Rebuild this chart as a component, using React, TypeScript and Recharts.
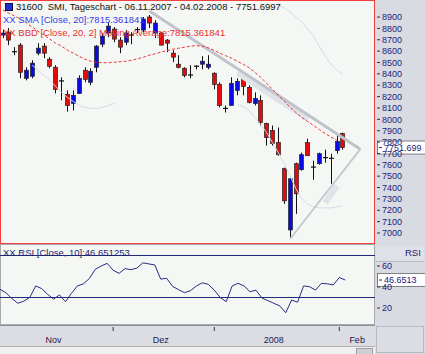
import React from 'react';
import { ComposedChart, Bar, Line, XAxis, YAxis, ReferenceLine } from 'recharts';

// SMI daily candles, 06.11.2007 - 04.02.2008
const opens = [
  8741, 8767, 8595, 8653, 8361, 8379, 8582, 8644, 8529, 8458,
  8338, 8220, 8140, 8228, 8432, 8326, 8458, 8661, 8759, 8794,
  8697, 8679, 8732, 8790, 8785, 8900, 8759, 8759, 8697, 8582,
  8485, 8449, 8390, 8458, 8485, 8458, 8405, 8308, 8087, 8122,
  8255, 8352, 8281, 8140, 8167, 7963, 7901, 7795, 7566, 7027,
  7610, 7557, 7795, 7580, 7610, 7654, 7657, 7725, 7875,
];
const highs = [
  8790, 8803, 8635, 8670, 8458, 8520, 8670, 8670, 8547, 8476,
  8370, 8255, 8255, 8387, 8458, 8449, 8653, 8759, 8847, 8812,
  8723, 8785, 8767, 8812, 8900, 8918, 8873, 8767, 8706, 8608,
  8564, 8458, 8476, 8476, 8555, 8564, 8414, 8326, 8122, 8370,
  8361, 8370, 8299, 8237, 8211, 7970, 7946, 7928, 7575, 7480,
  7619, 7707, 7830, 7636, 7707, 7733, 7698, 7875, 7883,
];
const lows = [
  8715, 8653, 8564, 8361, 8343, 8361, 8564, 8538, 8449, 8228,
  8167, 8069, 8078, 8225, 8326, 8299, 8414, 8635, 8723, 8679,
  8582, 8653, 8661, 8759, 8767, 8803, 8714, 8650, 8591, 8503,
  8449, 8370, 8361, 8440, 8440, 8440, 8264, 8105, 8060, 8120,
  8211, 8211, 8140, 8122, 7946, 7769, 7769, 7680, 7256, 6947,
  7168, 7548, 7678, 7468, 7601, 7619, 7433, 7698, 7733,
];
const closes = [
  8759, 8697, 8590, 8414, 8432, 8494, 8626, 8582, 8467, 8264,
  8330, 8122, 8211, 8361, 8352, 8423, 8644, 8732, 8820, 8706,
  8635, 8759, 8741, 8785, 8882, 8847, 8847, 8653, 8670, 8547,
  8458, 8387, 8385, 8467, 8511, 8485, 8308, 8122, 8096, 8317,
  8334, 8290, 8149, 8184, 7972, 7840, 7787, 7689, 7283, 7477,
  7345, 7689, 7680, 7575, 7698, 7663, 7654, 7804, 7751.6997,
];
const sma20 = [
  8962, 8935, 8909, 8882, 8847, 8812, 8776, 8741, 8706, 8670,
  8644, 8608, 8582, 8555, 8529, 8511, 8502, 8498, 8498, 8502,
  8507, 8511, 8520, 8533, 8547, 8564, 8577, 8591, 8604, 8617,
  8626, 8635, 8644, 8648, 8644, 8630, 8608, 8582, 8560, 8538,
  8511, 8485, 8454, 8414, 8370, 8317, 8264, 8211, 8158, 8109,
  8060, 8016, 7981, 7946, 7910, 7875, 7844, 7815.361841,
];
const n = null;
const bbLower = [
  n, n, n, n, n, 8476, 8432, 8387, 8343, 8290,
  8237, 8193, 8158, 8122, 8105, 8096, 8096, 8105, 8122, 8140,
  n, n, n, n, n, n, n, n, n, n,
  n, n, n, n, n, n, n, n, n, n,
  8131, 8114, 8078, 8016, 7954, 7884, 7795, 7707, 7610, 7504,
  7389, 7301, 7256, 7230, 7221, 7221, 7221, 7230, 7239,
];
const bbUpper = [
  n, n, n, n, n, n, n, n, n, n,
  n, n, n, n, n, n, n, n, n, n,
  n, n, n, n, n, n, n, n, n, n,
  n, n, n, n, n, n, n, n, n, n,
  n, n, n, n, n, n, n, 9006, 8980, 8944,
  8900, 8856, 8794, 8732, 8644, 8555, 8485, 8432, 8396,
];
const rsi10 = [
  37.8, 34.5, 29, 24.5, 26.5, 30, 41, 38.5, 33, 28.5,
  32.4, 26, 34, 41, 43, 48, 56.8, 60, 62.5, 56,
  53, 57.5, 56.5, 58, 63, 62, 61, 47.5, 48.3, 40.5,
  37.5, 34.6, 36.5, 41, 44, 42.5, 37, 30, 26, 41,
  43.5, 41, 35.5, 37, 29.5, 27, 24.5, 22, 15.5, 27.6,
  25.5, 41, 40.3, 37.1, 43.5, 43, 42, 49, 46.651253,
];

const priceTicks = [7000, 7100, 7200, 7300, 7400, 7500, 7600, 7700, 7800, 7900,
  8000, 8100, 8200, 8300, 8400, 8500, 8600, 8700, 8800, 8900];
const rsiTicks = [20, 40, 60];
const rsiBands = [70, 30];
const monthLabels = ['Nov', 'Dez', '2008', 'Feb'];
const monthCenterIdx = [9, 27, 46, 60];
const monthBreakIdx = [19, 36, 57];
// trendlines drawn on the chart: [startIdx, startVal, endIdx, endVal]
const trendUpper = [25, 8953, 61, 7736];
const trendUpperShade = [40, 8405, 52, 8001];
const trendLower = [49, 6947, 61, 7738];
const trendLowerShade = [55, 7265, 57, 7416];

const SLOTS = 64;
const rows = Array.from({ length: SLOTS }, (_, i) => ({
  i,
  range: i < closes.length ? [lows[i], highs[i]] : null,
  open: opens[i],
  high: highs[i],
  low: lows[i],
  close: closes[i],
  sma: sma20[i] ?? null,
  bbLo: bbLower[i] ?? null,
  bbUp: bbUpper[i] ?? null,
  rsi: rsi10[i] ?? null,
}));

const FONT = 'Liberation Sans, Arial, sans-serif';
const PANEL = '#f4f7f4';
const GREY = '#d9dbe2';
const NAVY = '#22227a';

const Candle = (props: any) => {
  const { x, y, width, height, payload } = props;
  if (payload == null || payload.open == null) return null;
  const { open, close, high, low } = payload;
  const top0 = Math.min(y, y + height);
  const h = Math.abs(height);
  const k = h / (high - low);
  const py = (v: number) => top0 + (high - v) * k;
  const cx = Math.floor(x + width / 2) + 0.5;
  const bt = py(Math.max(open, close));
  const bb = py(Math.min(open, close));
  const up = close >= open;
  const bh = bb - bt;
  return (
    <g>
      <line x1={cx} x2={cx} y1={top0} y2={top0 + h} stroke="#111" strokeWidth={1} />
      {bh < 1.5 ? (
        <line x1={cx - 2.5} x2={cx + 2.5} y1={bt} y2={bt} stroke="#111" strokeWidth={1.2} />
      ) : (
        <rect x={cx - 2} y={bt} width={4} height={bh} fill={up ? '#0a0ae6' : '#e60a0a'} stroke="#222" strokeWidth={0.7} />
      )}
    </g>
  );
};

const AxisTick = (props: any) => {
  const { x, y, payload } = props;
  return (
    <g>
      <line x1={x + 2} x2={x + 5} y1={y} y2={y} stroke="#333" />
      <text x={x + 7} y={y + 3.2} fontSize={9} fontFamily={FONT} fill={NAVY}>{payload.value}</text>
    </g>
  );
};

const ValueTag = (props: any) => {
  const { viewBox, text } = props;
  if (!viewBox) return null;
  const x = viewBox.x + viewBox.width + 2;
  const y = viewBox.y;
  return (
    <g>
      <rect x={x + 0.5} y={y - 6.5} width={50} height={13} fill="#ffffff" stroke="#666" strokeWidth={0.8} />
      <line x1={x + 2} x2={x + 5} y1={y} y2={y} stroke="#333" />
      <text x={x + 7} y={y + 3.2} fontSize={9} fontFamily={FONT} fill={NAVY}>{text}</text>
    </g>
  );
};

const MonthTick = (props: any) => {
  const { x, y, payload } = props;
  const v = payload.value;
  if (monthBreakIdx.includes(v)) {
    return <line x1={x} x2={x} y1={y + 2} y2={y + 6} stroke="#333" />;
  }
  const k = monthCenterIdx.indexOf(v);
  if (k < 0) return null;
  return (
    <text x={x} y={y + 18} textAnchor="middle" fontSize={9} fontFamily={FONT} fill="#1a1a50">
      {monthLabels[k]}
    </text>
  );
};

const seg = (t: number[]) => [{ x: t[0], y: t[1] }, { x: t[2], y: t[3] }];

export default function App() {
  const last = closes[closes.length - 1];
  const lastRsi = rsi10[rsi10.length - 1];
  return (
    <div style={{ position: 'relative', width: 425, height: 354, background: GREY, fontFamily: FONT, overflow: 'hidden' }}>
      <style>{'body{margin:0}'}</style>
      <div style={{ position: 'absolute', left: 0, top: 0, width: 375, height: 244, background: PANEL }} />
      <div style={{ position: 'absolute', left: 0, top: 244, width: 375, height: 81, background: PANEL, boxSizing: 'border-box', border: '1px solid #a8aab0' }} />
      <div style={{ position: 'absolute', left: 0, top: 325, width: 375, height: 21, background: '#dcdde3', borderTop: '1px solid #8e909a' }} />
      <div style={{ position: 'absolute', left: 0, top: 346, width: 375, height: 8, background: '#f0f0f0', borderTop: '1px solid #b0b0b0' }} />
      <div style={{ position: 'absolute', left: 356, top: 348, width: 15, height: 5, background: '#d0d0d4', border: '1px solid #a0a0a0' }} />
      <div style={{ position: 'absolute', left: 376, top: 246, width: 48, height: 15, background: '#dfe1e7', borderBottom: '1px solid #b8bac2' }} />
      <div style={{ position: 'absolute', left: 376, top: 326, width: 48, height: 27, background: '#dcdde3', border: '1px solid #b8bac2', boxSizing: 'border-box' }} />

      <div style={{ position: 'absolute', left: 0, top: 0 }}>
        <ComposedChart width={425} height={244} data={rows} margin={{ top: 1, right: 0, left: 0, bottom: 1 }}>
          <XAxis dataKey="i" type="category" hide />
          <YAxis
            orientation="right"
            width={50}
            domain={[6912, 9041]}
            ticks={priceTicks}
            interval={0}
            tick={<AxisTick />}
            tickLine={false}
            axisLine={false}
            tickSize={0}
            tickMargin={0}
            allowDataOverflow
          />
          <Line dataKey="bbUp" stroke="#cddfe9" strokeWidth={1} dot={false} isAnimationActive={false} />
          <Line dataKey="bbLo" stroke="#cddfe9" strokeWidth={1} dot={false} isAnimationActive={false} />
          <ReferenceLine segment={seg(trendUpperShade)} stroke="#dfe2e8" strokeWidth={5} ifOverflow="visible" />
          <ReferenceLine segment={seg(trendLowerShade)} stroke="#e0e3e9" strokeWidth={6} ifOverflow="visible" />
          <ReferenceLine segment={seg(trendUpper)} stroke="#c0c3cb" strokeWidth={3} ifOverflow="visible" />
          <ReferenceLine segment={seg(trendLower)} stroke="#c4c7cf" strokeWidth={1.8} ifOverflow="visible" />
          <Bar dataKey="range" shape={<Candle />} isAnimationActive={false} />
          <Line dataKey="sma" stroke="#e83a3a" strokeWidth={1} strokeDasharray="3 2" dot={false} isAnimationActive={false} />
          <ReferenceLine y={last} stroke="none" ifOverflow="visible" label={<ValueTag text="7751.699" />} />
        </ComposedChart>
      </div>

      <div style={{ position: 'absolute', left: 0, top: 244 }}>
        <ComposedChart width={425} height={102} data={rows} margin={{ top: 1, right: 0, left: 0, bottom: 0 }}>
          <XAxis
            dataKey="i"
            type="category"
            ticks={[...monthBreakIdx, ...monthCenterIdx]}
            interval={0}
            tick={<MonthTick />}
            tickLine={false}
            axisLine={false}
            tickSize={0}
            tickMargin={0}
            height={21}
          />
          <YAxis
            orientation="right"
            width={50}
            domain={[3.8, 80]}
            ticks={rsiTicks}
            interval={0}
            tick={<AxisTick />}
            tickLine={false}
            axisLine={false}
            tickSize={0}
            tickMargin={0}
          />
          {rsiBands.map((b) => (
            <ReferenceLine key={b} y={b} stroke="#1f2a7c" strokeWidth={1.2} />
          ))}
          <Line dataKey="rsi" stroke="#2b2b80" strokeWidth={1} dot={false} isAnimationActive={false} />
          <ReferenceLine y={lastRsi} stroke="none" ifOverflow="visible" label={<ValueTag text="46.6513" />} />
        </ComposedChart>
      </div>

      <div style={{ position: 'absolute', left: 0, top: 0, width: 375, height: 244, boxSizing: 'border-box', border: '1px solid #f04040', pointerEvents: 'none' }} />

      <div style={{ position: 'absolute', left: 5, top: 3, width: 6, height: 6, background: '#2030d0', border: '1px solid #101040' }} />
      <div style={{ position: 'absolute', left: 16, top: 1, fontSize: 9.5, color: '#111', whiteSpace: 'nowrap' }}>
        31600&nbsp; SMI, Tageschart - 06.11.2007 - 04.02.2008 - 7751.6997
      </div>
      <div style={{ position: 'absolute', left: 3, top: 14, fontSize: 9.5, color: '#3a3ae8', whiteSpace: 'nowrap' }}>
        XX SMA [Close, 20]:7815.361841
      </div>
      <div style={{ position: 'absolute', left: 3, top: 27, fontSize: 9.5, color: '#e83030', whiteSpace: 'nowrap' }}>
        XX BBD [Close, 20, 2] Moving Average:7815.361841
      </div>
      <div style={{ position: 'absolute', left: 3, top: 247, fontSize: 9.5, color: '#1e1e70', whiteSpace: 'nowrap' }}>
        XX RSI [Close, 10]:46.651253
      </div>
      <div style={{ position: 'absolute', left: 405, top: 247, fontSize: 9.5, color: '#1e1e70', whiteSpace: 'nowrap' }}>
        RSI
      </div>
    </div>
  );
}
